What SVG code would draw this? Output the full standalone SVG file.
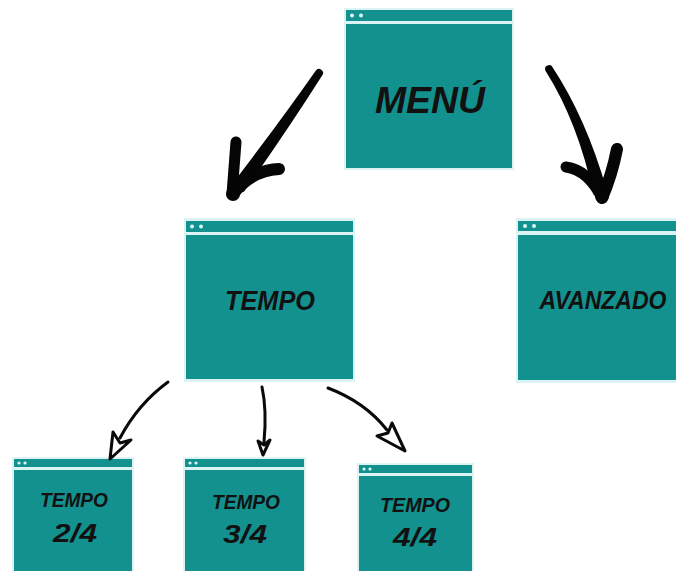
<svg xmlns="http://www.w3.org/2000/svg" width="676" height="571" viewBox="0 0 676 571">
  <defs>
    <style>
      .frame { fill: #dcf3f3; }
      .bar { fill: #13918f; }
      .body { fill: #13918f; }
      .dot { fill: #dff7f7; }
      .label { font-family: "Liberation Sans", "DejaVu Sans", sans-serif; font-weight: bold; font-style: italic; fill: #111; }
      .shaft { fill: #050505; }
      .big { fill: none; stroke: #050505; stroke-linecap: round; stroke-linejoin: round; }
      .thin { fill: none; stroke: #0a0a0a; stroke-width: 3; stroke-linecap: round; stroke-linejoin: round; }
      .head { fill: #fff; stroke: #0a0a0a; stroke-width: 3; stroke-linejoin: round; }
    </style>
  </defs>

  <rect width="676" height="571" fill="#ffffff"/>

  <!-- window-style screens -->
  <g id="menu">
    <rect class="frame" x="344" y="8" width="170" height="162"/>
    <rect class="bar" x="346" y="10" width="166" height="11"/>
    <rect class="body" x="346" y="24" width="166" height="144"/>
    <circle class="dot" cx="352" cy="15.5" r="2"/>
    <circle class="dot" cx="361" cy="15.5" r="2"/>
    <text class="label" x="430" y="113" font-size="36" text-anchor="middle" textLength="110" lengthAdjust="spacingAndGlyphs">MENÚ</text>
  </g>

  <g id="tempo">
    <rect class="frame" x="184" y="218" width="171" height="164"/>
    <rect class="bar" x="186" y="221" width="167" height="11"/>
    <rect class="body" x="186" y="235" width="167" height="144"/>
    <circle class="dot" cx="192" cy="226.5" r="2"/>
    <circle class="dot" cx="201" cy="226.5" r="2"/>
    <text class="label" x="270" y="310" font-size="27" text-anchor="middle" textLength="90" lengthAdjust="spacingAndGlyphs">TEMPO</text>
  </g>

  <g id="avanzado">
    <rect class="frame" x="516" y="218" width="170" height="165"/>
    <rect class="bar" x="518" y="221" width="168" height="10"/>
    <rect class="body" x="518" y="235" width="168" height="145"/>
    <circle class="dot" cx="525" cy="226" r="2"/>
    <circle class="dot" cx="534" cy="226" r="2"/>
    <text class="label" x="603" y="309" font-size="25" text-anchor="middle" textLength="127" lengthAdjust="spacingAndGlyphs">AVANZADO</text>
  </g>

  <g id="tempo-2-4">
    <rect class="frame" x="12" y="457" width="122" height="120"/>
    <rect class="bar" x="14" y="459" width="118" height="8"/>
    <rect class="body" x="14" y="470" width="118" height="105"/>
    <circle class="dot" cx="19" cy="463" r="1.6"/>
    <circle class="dot" cx="25" cy="463" r="1.6"/>
    <text class="label" x="74" y="507" font-size="20" text-anchor="middle" textLength="68" lengthAdjust="spacingAndGlyphs">TEMPO</text>
    <text class="label" x="75" y="542" font-size="25" text-anchor="middle" textLength="44" lengthAdjust="spacingAndGlyphs">2/4</text>
  </g>

  <g id="tempo-3-4">
    <rect class="frame" x="183" y="457" width="123" height="120"/>
    <rect class="bar" x="185" y="459" width="119" height="8"/>
    <rect class="body" x="185" y="470" width="119" height="105"/>
    <circle class="dot" cx="190" cy="463" r="1.6"/>
    <circle class="dot" cx="196" cy="463" r="1.6"/>
    <text class="label" x="246" y="509" font-size="20" text-anchor="middle" textLength="68" lengthAdjust="spacingAndGlyphs">TEMPO</text>
    <text class="label" x="245" y="543" font-size="25" text-anchor="middle" textLength="44" lengthAdjust="spacingAndGlyphs">3/4</text>
  </g>

  <g id="tempo-4-4">
    <rect class="frame" x="357" y="463" width="117" height="114"/>
    <rect class="bar" x="359" y="465" width="113" height="8"/>
    <rect class="body" x="359" y="476" width="113" height="99"/>
    <circle class="dot" cx="364" cy="469" r="1.6"/>
    <circle class="dot" cx="370" cy="469" r="1.6"/>
    <text class="label" x="415" y="512" font-size="21" text-anchor="middle" textLength="70" lengthAdjust="spacingAndGlyphs">TEMPO</text>
    <text class="label" x="415" y="546" font-size="25" text-anchor="middle" textLength="44" lengthAdjust="spacingAndGlyphs">4/4</text>
  </g>

  <!-- hand-drawn connectors -->
  <g id="connectors">
    <!-- heavy arrows from the main menu: tapered shaft + brush-stroke head -->
    <path class="shaft" d="M315.7,70.7 Q279,123 232.3,183.9 L243.7,192.1 Q287,131 322.3,75.3 A4,4 0 0 0 315.7,70.7 Z"/>
    <path class="big" stroke-width="11" d="M236,142 L232,194"/>
    <path class="big" stroke-width="12" d="M279,169 Q252,170 233,194"/>
    <circle cx="233" cy="194" r="7" fill="#050505"/>

    <path class="shaft" d="M545.3,70.5 Q578,122 593.5,194.7 L606.5,189.3 Q586,118 552.7,67.5 A4,4 0 0 0 545.3,70.5 Z"/>
    <path class="big" stroke-width="11" d="M566,167 Q588,170 602,198"/>
    <path class="big" stroke-width="12" d="M617,149 Q612,175 602,198"/>
    <circle cx="602" cy="196" r="7" fill="#050505"/>

    <!-- light arrows to the time signatures -->
    <path class="thin" d="M168,382 Q138,404 120,438"/>
    <polygon class="head" points="110,459 113,432 120,443 131,440"/>

    <path class="thin" d="M262,387 Q267,410 264,442"/>
    <polygon class="head" points="263,455 258,441 264,445 270,440"/>

    <path class="thin" d="M328,388 Q365,402 387,430"/>
    <polygon class="head" points="405,451 377,436 388,433 392,423"/>
  </g>
</svg>
